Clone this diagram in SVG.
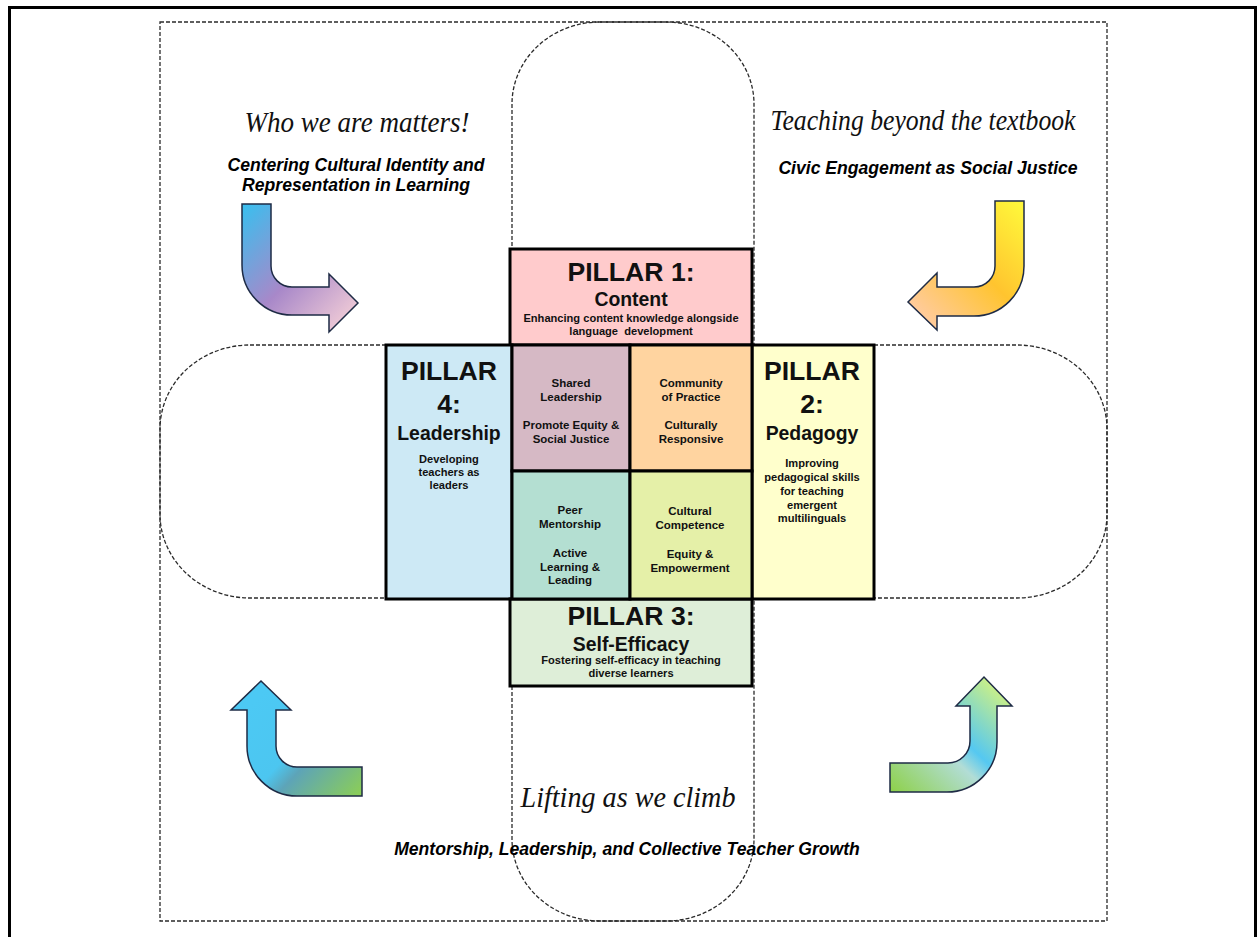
<svg xmlns="http://www.w3.org/2000/svg" width="1258" height="937" viewBox="0 0 1258 937">
<defs>
<style>
.dash{fill:none;stroke:#2a2a2a;stroke-width:1.3;stroke-dasharray:4 2}
.box{stroke:#000;stroke-width:3}
.arrow{stroke:#1E2B45;stroke-width:1.5;stroke-linejoin:miter}
.script{font-family:"Liberation Serif",serif;font-style:italic;fill:#111}
.sub{font-family:"Liberation Sans",Arial,sans-serif;font-weight:bold;font-style:italic;font-size:17.6px;fill:#000;text-anchor:middle}
.t{font-family:"Liberation Sans",Arial,sans-serif;font-weight:bold;fill:#111;text-anchor:middle}
.big{font-size:26.6px}
.mid{font-size:19.4px}
.sm{font-size:11.1px}
.q{font-size:11.5px}
</style>
<linearGradient id="g1" gradientUnits="userSpaceOnUse" x1="245" y1="205" x2="355" y2="312">
<stop offset="0" stop-color="#3BBEEE"/><stop offset="0.55" stop-color="#A888C9"/><stop offset="1" stop-color="#EEC9D6"/>
</linearGradient>
<linearGradient id="g2" gradientUnits="userSpaceOnUse" x1="1015" y1="201" x2="910" y2="305">
<stop offset="0" stop-color="#FFF63A"/><stop offset="0.5" stop-color="#FFC42F"/><stop offset="1" stop-color="#FFCB9D"/>
</linearGradient>
<linearGradient id="g3" gradientUnits="userSpaceOnUse" x1="255" y1="700" x2="362" y2="800">
<stop offset="0" stop-color="#4CC9F4"/><stop offset="0.42" stop-color="#4CC6F0"/><stop offset="0.55" stop-color="#5DA4B8"/><stop offset="1" stop-color="#8FD14F"/>
</linearGradient>
<linearGradient id="g4" gradientUnits="userSpaceOnUse" x1="895" y1="792" x2="1000" y2="680">
<stop offset="0" stop-color="#8FD14F"/><stop offset="0.42" stop-color="#B2DDD6"/><stop offset="0.55" stop-color="#55C8F1"/><stop offset="1" stop-color="#D9F47A"/>
</linearGradient>
</defs>
<rect width="1258" height="937" fill="#fff"/>
<g id="frame">
<path d="M9.5,940 V7.5 H1255.5 V940" fill="none" stroke="#000" stroke-width="3"/>
</g>
<g id="outline">
<rect class="dash" x="160" y="22" width="947" height="899"/>
<rect class="dash" x="512" y="22" width="242" height="899" rx="88" ry="82"/>
<rect class="dash" x="160" y="345" width="947" height="253" rx="90" ry="84"/>
</g>
<g id="connectors">
<path id="arrow-tl" class="arrow" fill="url(#g1)" d="M242,204 H271 V266 A21,21 0 0 0 292,287 H329 V274 L358,303 L329,332 V315 H292 A50,50 0 0 1 242,265 Z"/>
<path id="arrow-tr" class="arrow" fill="url(#g2)" d="M1024,201 V266 A50,50 0 0 1 974,316 H937 V330 L908,302 L937,273 V287 H974 A21,21 0 0 0 995,266 V201 Z"/>
<path id="arrow-bl" class="arrow" fill="url(#g3)" d="M362,767 H297 A21,21 0 0 1 276,746 V710 H291 L261,681 L231,710 H247 V746 A50,50 0 0 0 297,796 H362 Z"/>
<path id="arrow-br" class="arrow" fill="url(#g4)" d="M890,763 H948 A22,22 0 0 0 970,741 V706 H956 L984,677 L1012,706 H997 V742 A50,50 0 0 1 947,792 H890 Z"/>
</g>
<g id="theme-identity">
<text class="script" x="357" y="132" font-size="29" text-anchor="middle" textLength="225" lengthAdjust="spacingAndGlyphs">Who we are matters!</text>
<text class="sub" x="356" y="171">Centering Cultural Identity and</text>
<text class="sub" x="356" y="191">Representation in Learning</text>
</g>
<g id="theme-civic">
<text class="script" x="923" y="130" font-size="29" text-anchor="middle" textLength="305" lengthAdjust="spacingAndGlyphs">Teaching beyond the textbook</text>
<text class="sub" x="928" y="174">Civic Engagement as Social Justice</text>
</g>
<g id="theme-lifting">
<text class="script" x="628" y="807" font-size="29" text-anchor="middle" textLength="215" lengthAdjust="spacingAndGlyphs">Lifting as we climb</text>
<text class="sub" x="627" y="855">Mentorship, Leadership, and Collective Teacher Growth</text>
</g>
<g id="pillar1">
<rect class="box" x="510" y="249" width="242" height="96" fill="#FFCBCC"/>
<text class="t big" x="631" y="281">PILLAR 1:</text>
<text class="t mid" x="631" y="306">Content</text>
<text class="t sm" x="631" y="322">Enhancing content knowledge alongside</text>
<text class="t sm" x="631" y="335" xml:space="preserve">language  development</text>
</g>
<g id="pillar4">
<rect class="box" x="386" y="345" width="126" height="254" fill="#CDE9F5"/>
<text class="t big" x="449" y="380">PILLAR</text>
<text class="t big" x="449" y="413">4:</text>
<text class="t mid" x="449" y="440">Leadership</text>
<text class="t sm" x="449" y="463">Developing</text>
<text class="t sm" x="449" y="476">teachers as</text>
<text class="t sm" x="449" y="489">leaders</text>
</g>
<g id="pillar2">
<rect class="box" x="752" y="345" width="122" height="254" fill="#FFFFCC"/>
<text class="t big" x="812" y="380">PILLAR</text>
<text class="t big" x="812" y="413">2:</text>
<text class="t mid" x="812" y="440">Pedagogy</text>
<text class="t sm" x="812" y="467">Improving</text>
<text class="t sm" x="812" y="481">pedagogical skills</text>
<text class="t sm" x="812" y="495">for teaching</text>
<text class="t sm" x="812" y="509">emergent</text>
<text class="t sm" x="812" y="522">multilinguals</text>
</g>
<g id="pillar3">
<rect class="box" x="510" y="599" width="242" height="87" fill="#DEEED8"/>
<text class="t big" x="631" y="625">PILLAR 3:</text>
<text class="t mid" x="631" y="651">Self-Efficacy</text>
<text class="t sm" x="631" y="664">Fostering self-efficacy in teaching</text>
<text class="t sm" x="631" y="677">diverse learners</text>
</g>
<g id="shared-leadership">
<rect class="box" x="512" y="345" width="118" height="126" fill="#D6B9C5"/>
<text class="t q" x="571" y="387">Shared</text>
<text class="t q" x="571" y="401">Leadership</text>
<text class="t q" x="571" y="429">Promote Equity &amp;</text>
<text class="t q" x="571" y="443">Social Justice</text>
</g>
<g id="community-of-practice">
<rect class="box" x="630" y="345" width="122" height="126" fill="#FFD4A0"/>
<text class="t q" x="691" y="387">Community</text>
<text class="t q" x="691" y="401">of Practice</text>
<text class="t q" x="691" y="429">Culturally</text>
<text class="t q" x="691" y="443">Responsive</text>
</g>
<g id="peer-mentorship">
<rect class="box" x="512" y="471" width="118" height="128" fill="#B4DFD2"/>
<text class="t q" x="570" y="514">Peer</text>
<text class="t q" x="570" y="528">Mentorship</text>
<text class="t q" x="570" y="557">Active</text>
<text class="t q" x="570" y="571">Learning &amp;</text>
<text class="t q" x="570" y="584">Leading</text>
</g>
<g id="cultural-competence">
<rect class="box" x="630" y="471" width="122" height="128" fill="#E5F0A8"/>
<text class="t q" x="690" y="515">Cultural</text>
<text class="t q" x="690" y="529">Competence</text>
<text class="t q" x="690" y="558">Equity &amp;</text>
<text class="t q" x="690" y="572">Empowerment</text>
</g>
</svg>
